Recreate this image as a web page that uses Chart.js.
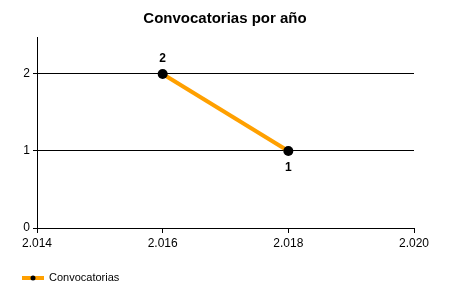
<!DOCTYPE html>
<html>
<head>
<meta charset="utf-8">
<script src="https://cdn.jsdelivr.net/npm/chart.js@4.4.1/dist/chart.umd.min.js"></script>
<style>
  html, body { margin: 0; padding: 0; background: #fff; }
  #wrap { width: 450px; height: 300px; }
</style>
</head>
<body>
<div id="wrap"><canvas id="chart" width="450" height="300"></canvas></div>
<script>
// --- Data ---
const years = [2016, 2018];
const counts = [2, 1];
const labelSide = ['above', 'below'];
const xTicks = [2014, 2016, 2018, 2020];
const yTicks = [0, 1, 2];
const seriesName = 'Convocatorias';
const titleText = 'Convocatorias por año';

const FONT = 'Arial, "Liberation Sans", sans-serif';
const ORANGE = '#FFA000';

// format 2014 -> "2.014"
const fmtYear = (v) => {
    const s = String(Math.round(v * 1000) / 1000);
    return s.length > 3 ? s.slice(0, s.length - 3) + '.' + s.slice(s.length - 3) : s;
};

// --- Plugins ---
// title centred on the whole canvas (the built-in one follows the padding)
const canvasTitle = {
    id: 'canvasTitle',
    afterDraw(chart) {
        const ctx = chart.ctx;
        ctx.save();
        ctx.font = 'bold 15px ' + FONT;
        ctx.fillStyle = '#000';
        ctx.textAlign = 'center';
        ctx.textBaseline = 'middle';
        ctx.fillText(titleText, chart.width / 2, 19);
        ctx.restore();
    }
};

const pointLabels = {
    id: 'pointLabels',
    afterDatasetsDraw(chart) {
        const ctx = chart.ctx;
        const meta = chart.getDatasetMeta(0);
        ctx.save();
        ctx.font = 'bold 12px ' + FONT;
        ctx.fillStyle = '#000';
        ctx.textAlign = 'center';
        ctx.textBaseline = 'middle';
        meta.data.forEach((pt, i) => {
            const dy = labelSide[i] === 'above' ? -15 : 17;
            ctx.fillText(String(counts[i]), pt.x, pt.y + dy);
        });
        ctx.restore();
    }
};

const bottomLegend = {
    id: 'bottomLegend',
    afterDraw(chart) {
        const ctx = chart.ctx;
        const y = 278;
        ctx.save();
        ctx.strokeStyle = ORANGE;
        ctx.lineWidth = 4;
        ctx.beginPath();
        ctx.moveTo(22, y);
        ctx.lineTo(44, y);
        ctx.stroke();
        ctx.fillStyle = '#000';
        ctx.beginPath();
        ctx.arc(33, y, 2.5, 0, Math.PI * 2);
        ctx.fill();
        ctx.font = '11px ' + FONT;
        ctx.textBaseline = 'middle';
        ctx.fillText(seriesName, 49, y);
        ctx.restore();
    }
};

// --- Chart ---
new Chart(document.getElementById('chart').getContext('2d'), {
    type: 'line',
    data: {
        datasets: [{
            label: seriesName,
            data: years.map((x, i) => ({ x: x, y: counts[i] })),
            borderColor: ORANGE,
            borderWidth: 4,
            pointRadius: 5,
            pointBackgroundColor: '#000',
            pointBorderColor: '#000',
            pointBorderWidth: 0,
            tension: 0
        }]
    },
    options: {
        responsive: false,
        animation: false,
        layout: { padding: { left: 0, right: 36, top: 37, bottom: 0 } },
        plugins: {
            legend: { display: false },
            tooltip: { enabled: false },
            title: { display: false }
        },
        scales: {
            x: {
                type: 'linear',
                min: xTicks[0],
                max: xTicks[xTicks.length - 1],
                afterBuildTicks: (s) => { s.ticks = xTicks.map(v => ({ value: v })); },
                afterFit: (s) => { s.height = 72; },
                border: { color: '#000', width: 1 },
                grid: { drawOnChartArea: false, tickLength: 5, tickColor: '#000' },
                ticks: {
                    color: '#000',
                    padding: 3,
                    maxRotation: 0,
                    font: { family: FONT, size: 12 },
                    callback: (v) => fmtYear(v)
                }
            },
            y: {
                min: 0,
                max: 2.48,
                afterBuildTicks: (s) => { s.ticks = yTicks.map(v => ({ value: v })); },
                afterFit: (s) => { s.width = 37; },
                border: { color: '#000', width: 1 },
                grid: { color: '#000', lineWidth: 1, tickLength: 4, tickColor: '#000' },
                ticks: {
                    color: '#000',
                    padding: 3,
                    font: { family: FONT, size: 12 },
                    callback: (v) => String(v)
                }
            }
        }
    },
    plugins: [canvasTitle, pointLabels, bottomLegend]
});
</script>
</body>
</html>
